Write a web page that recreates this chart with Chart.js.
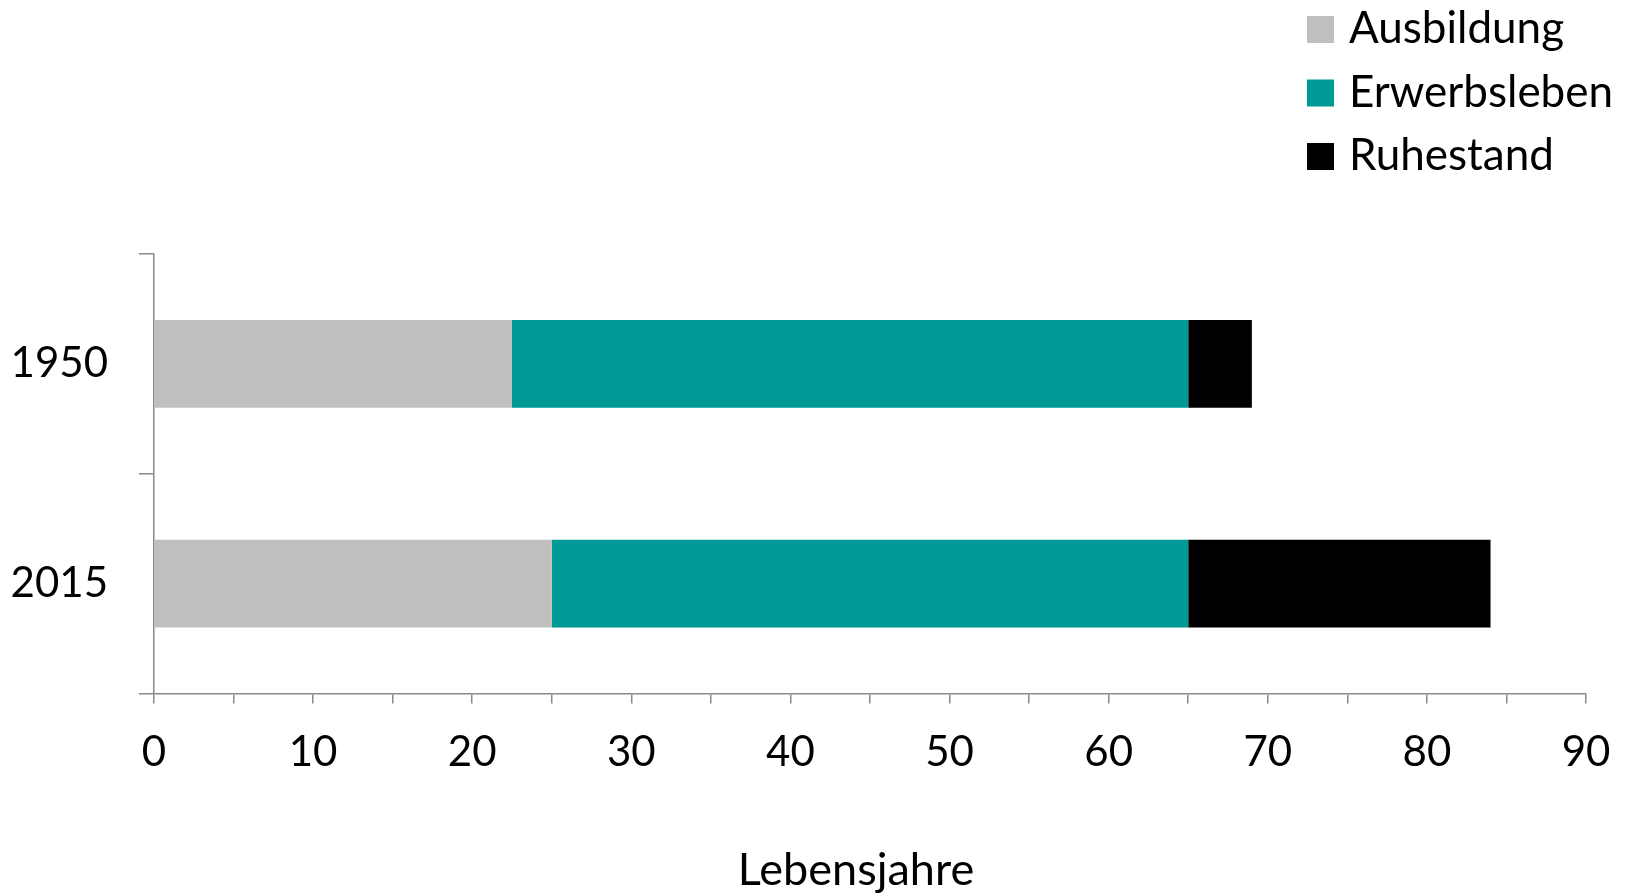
<!DOCTYPE html>
<html>
<head>
<meta charset="utf-8">
<script src="https://cdn.jsdelivr.net/npm/chart.js@4.4.1/dist/chart.umd.min.js"></script>
<style>
  html, body { margin: 0; padding: 0; background: #ffffff; }
  #wrap { width: 1626px; height: 895px; position: relative; }
</style>
</head>
<body>
<div id="wrap"><canvas id="c" width="1626" height="895"></canvas></div>
<script>
const categories = ['1950', '2015'];
const seriesNames = ['Ausbildung', 'Erwerbsleben', 'Ruhestand'];
const ausbildung = [22.5, 25];
const erwerbsleben = [42.5, 40];
const ruhestand = [4, 19];
const seriesColors = ['#BFBFBF', '#009A96', '#000000'];
const xTicksMin = 0, xTicksMax = 90, xTickStep = 5, xLabelStep = 10;
const axisTitle = 'Lebensjahre';

const FONT = 'Lato, "Open Sans", sans-serif';
const AXIS = '#8a8a8a';

const legendPlugin = {
  id: 'customLegend',
  afterDraw(chart) {
    const ctx = chart.ctx;
    ctx.save();
    ctx.font = '44px ' + FONT;
    ctx.textAlign = 'left';
    ctx.textBaseline = 'alphabetic';
    chart.data.datasets.forEach((ds, i) => {
      const top = 16 + i * 63.5;
      ctx.fillStyle = ds.backgroundColor;
      ctx.fillRect(1307, top, 27, 27);
      ctx.fillStyle = '#000000';
      ctx.fillText(ds.label, 1349, top + 27);
    });
    // axis title
    ctx.font = '45px ' + FONT;
    ctx.textAlign = 'center';
    ctx.fillText(axisTitle, 856, 885);
    ctx.restore();
  }
};

const seriesData = [ausbildung, erwerbsleben, ruhestand];

new Chart(document.getElementById('c'), {
  type: 'bar',
  data: {
    labels: categories,
    datasets: seriesNames.map((name, i) => ({
      label: name,
      data: seriesData[i],
      backgroundColor: seriesColors[i],
      borderWidth: 0,
      categoryPercentage: 1.0,
      barPercentage: 0.4
    }))
  },
  options: {
    indexAxis: 'y',
    responsive: false,
    animation: false,
    events: [],
    layout: { padding: { top: 254, right: 40, left: 0, bottom: 0 } },
    plugins: {
      legend: { display: false },
      tooltip: { enabled: false }
    },
    scales: {
      x: {
        stacked: true,
        min: xTicksMin,
        max: xTicksMax,
        afterFit(scale) {
          scale.height = 895 - 693.5;
          scale.paddingRight = 0;
          scale.paddingLeft = 0;
        },
        ticks: {
          stepSize: xTickStep,
          autoSkip: false,
          maxRotation: 0,
          color: '#000000',
          font: { family: FONT, size: 42 },
          padding: 24,
          callback: (v) => (v % xLabelStep === 0 ? String(v) : '')
        },
        grid: {
          drawOnChartArea: false,
          drawTicks: true,
          tickLength: 10,
          color: AXIS,
          lineWidth: 1.5
        },
        border: { display: true, color: AXIS, width: 1.5 },
        title: { display: false }
      },
      y: {
        stacked: true,
        afterFit(scale) { scale.width = 154; },
        ticks: {
          color: '#000000',
          font: { family: FONT, size: 42 },
          padding: 31
        },
        grid: {
          offset: true,
          drawOnChartArea: false,
          drawTicks: true,
          tickLength: 15,
          color: AXIS,
          lineWidth: 1.5
        },
        border: { display: true, color: AXIS, width: 1.5 }
      }
    }
  },
  plugins: [legendPlugin]
});
</script>
</body>
</html>
